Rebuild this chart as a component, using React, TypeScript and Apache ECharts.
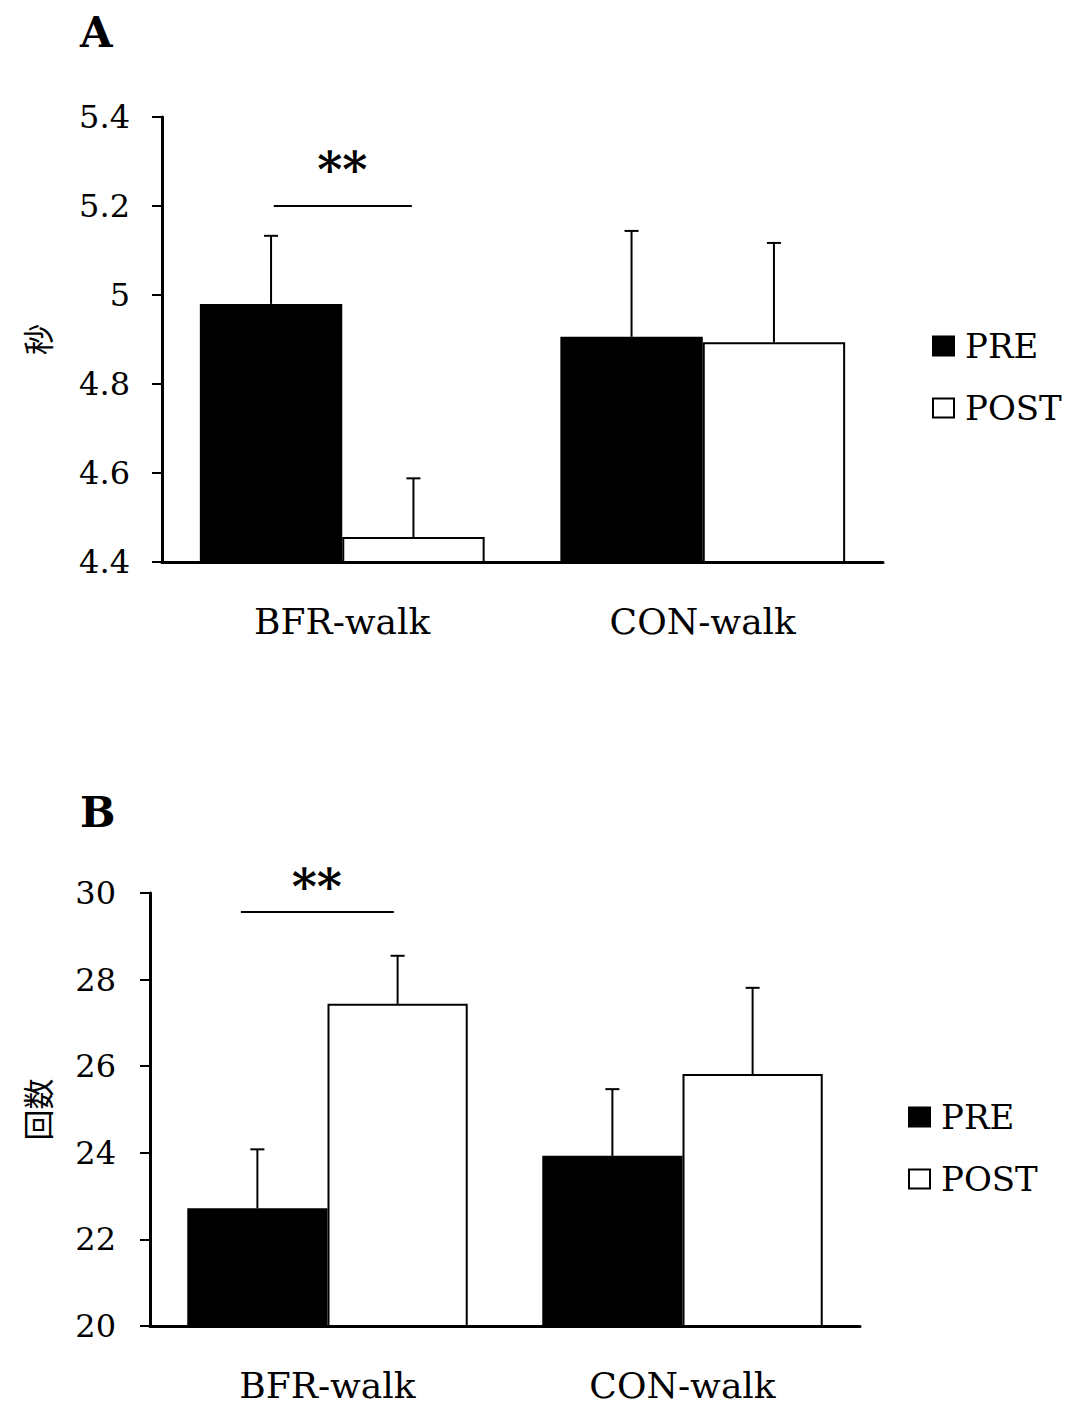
import React, { useEffect, useRef } from "react";
import * as echarts from "echarts";

const categories = ["BFR-walk", "CON-walk"];
const seriesNames = ["PRE", "POST"];

// Panel A (秒)
const preA = [4.98, 4.906];
const postA = [4.456, 4.894];
const preASd = [0.153, 0.238];
const postASd = [0.132, 0.223];
const ticksA = { min: 4.4, max: 5.4, interval: 0.2 };
const sigA = { level: 5.2, label: "**" };

// Panel B (回数)
const preB = [22.72, 23.93];
const postB = [27.44, 25.82];
const preBSd = [1.36, 1.54];
const postBSd = [1.11, 1.99];
const ticksB = { min: 20, max: 30, interval: 2 };
const sigB = { level: 29.56, label: "**" };

const FONT = "DejaVu Serif";
const GAP = 0.21;

function errorData(vals: number[], sds: number[], side: number) {
  return vals.map((v, i) => [i, v + sds[i], v, side]);
}

function errorRender(params: any, api: any) {
  const cat = api.value(0);
  const top = api.value(1);
  const base = api.value(2);
  const side = api.value(3);
  const band = api.size([1, 0])[0];
  const bw = (band * (1 - GAP)) / 2;
  const b = api.coord([cat, base]);
  const t = api.coord([cat, top]);
  const x = b[0] + (side * bw) / 2;
  const st = { stroke: "#000", lineWidth: 2 };
  return {
    type: "group",
    children: [
      { type: "line", shape: { x1: x, y1: b[1], x2: x, y2: t[1] }, style: st },
      { type: "line", shape: { x1: x - 7, y1: t[1], x2: x + 7, y2: t[1] }, style: st },
    ],
  };
}

function sigRender(label: string, x1f: number, x2f: number, txf: number, dy: number) {
  return (params: any, api: any) => {
    const cat = api.value(0);
    const lvl = api.value(1);
    const band = api.size([1, 0])[0];
    const p = api.coord([cat, lvl]);
    return {
      type: "group",
      children: [
        {
          type: "line",
          shape: { x1: p[0] + x1f * band, y1: p[1], x2: p[0] + x2f * band, y2: p[1] },
          style: { stroke: "#000", lineWidth: 2 },
        },
        {
          type: "text",
          x: p[0] + txf * band,
          y: p[1] + dy,
          style: {
            text: label,
            fill: "#000",
            font: `bold 48px "${FONT}"`,
            align: "center",
            verticalAlign: "middle",
          },
        },
      ],
    };
  };
}

function valueAxis(t: any, name: string, gridIndex: number, nameGap: number, margin: number) {
  return {
    type: "value",
    gridIndex,
    min: t.min,
    max: t.max,
    interval: t.interval,
    name,
    nameLocation: "middle",
    nameGap,
    nameRotate: 90,
    nameTextStyle: { fontFamily: "Noto Sans CJK JP", fontSize: 31, color: "#000" },
    axisLine: { show: true, lineStyle: { color: "#000", width: 3 } },
    axisTick: { show: true, inside: false, length: 10, lineStyle: { color: "#000", width: 2 } },
    axisLabel: { fontFamily: FONT, fontSize: 32, color: "#000", margin },
    splitLine: { show: false },
  };
}

function catAxis(gridIndex: number, margin: number) {
  return {
    type: "category",
    gridIndex,
    data: categories,
    axisLine: { show: true, lineStyle: { color: "#000", width: 3 } },
    axisTick: { show: false },
    axisLabel: { fontFamily: FONT, fontSize: 36, lineHeight: 36, color: "#000", margin },
  };
}

const preStyle = { color: "#000", borderColor: "#000", borderWidth: 2 };
const postStyle = { color: "#fff", borderColor: "#000", borderWidth: 2 };

function legend(left: number, top: number) {
  return {
    left,
    top,
    orient: "vertical",
    itemWidth: 21,
    itemHeight: 19,
    itemGap: 28,
    padding: 0,
    icon: "rect",
    data: seriesNames,
    textStyle: { fontFamily: FONT, fontSize: 34, color: "#000", lineHeight: 34, padding: [0, 0, 0, 6] },
  };
}

export default function App() {
  const ref = useRef<HTMLDivElement>(null);
  useEffect(() => {
    if (!ref.current) return;
    const chart = echarts.init(ref.current, null, { renderer: "svg" });
    chart.setOption({
      animation: false,
      backgroundColor: "#fff",
      title: [
        { text: "A", left: 80, top: 11, padding: 0, textStyle: { fontFamily: FONT, fontSize: 42, fontWeight: "bold", color: "#000" } },
        { text: "B", left: 80, top: 791, padding: 0, textStyle: { fontFamily: FONT, fontSize: 42, fontWeight: "bold", color: "#000" } },
      ],
      legend: [legend(932, 329), legend(908, 1100)],
      grid: [
        { left: 162, right: 187, top: 117, height: 445 },
        { left: 150, right: 210, top: 893, height: 433 },
      ],
      xAxis: [catAxis(0, 41), catAxis(1, 41)],
      yAxis: [valueAxis(ticksA, "秒", 0, 110, 32), valueAxis(ticksB, "回数", 1, 98, 34)],
      series: [
        { name: seriesNames[0], type: "bar", xAxisIndex: 0, yAxisIndex: 0, data: preA, itemStyle: preStyle, barGap: "0%", barCategoryGap: "21%" },
        { name: seriesNames[1], type: "bar", xAxisIndex: 0, yAxisIndex: 0, data: postA, itemStyle: postStyle, barGap: "0%", barCategoryGap: "21%" },
        { name: seriesNames[0], type: "bar", xAxisIndex: 1, yAxisIndex: 1, data: preB, itemStyle: preStyle, barGap: "0%", barCategoryGap: "21%" },
        { name: seriesNames[1], type: "bar", xAxisIndex: 1, yAxisIndex: 1, data: postB, itemStyle: postStyle, barGap: "0%", barCategoryGap: "21%" },
        { type: "custom", xAxisIndex: 0, yAxisIndex: 0, renderItem: errorRender, data: errorData(preA, preASd, -1), encode: { x: 0, y: 1 }, z: 5 },
        { type: "custom", xAxisIndex: 0, yAxisIndex: 0, renderItem: errorRender, data: errorData(postA, postASd, 1), encode: { x: 0, y: 1 }, z: 5 },
        { type: "custom", xAxisIndex: 1, yAxisIndex: 1, renderItem: errorRender, data: errorData(preB, preBSd, -1), encode: { x: 0, y: 1 }, z: 5 },
        { type: "custom", xAxisIndex: 1, yAxisIndex: 1, renderItem: errorRender, data: errorData(postB, postBSd, 1), encode: { x: 0, y: 1 }, z: 5 },
        { type: "custom", xAxisIndex: 0, yAxisIndex: 0, renderItem: sigRender(sigA.label, -0.19, 0.193, 0.0, -36), data: [[0, sigA.level]], encode: { x: 0, y: 1 }, z: 5 },
        { type: "custom", xAxisIndex: 1, yAxisIndex: 1, renderItem: sigRender(sigB.label, -0.244, 0.187, -0.03, -25), data: [[0, sigB.level]], encode: { x: 0, y: 1 }, z: 5 },
      ],
    });
    return () => chart.dispose();
  }, []);
  return (
    <div
      ref={ref}
      style={{ position: "absolute", left: 0, top: 0, width: 1070, height: 1405, background: "#fff" }}
    />
  );
}
